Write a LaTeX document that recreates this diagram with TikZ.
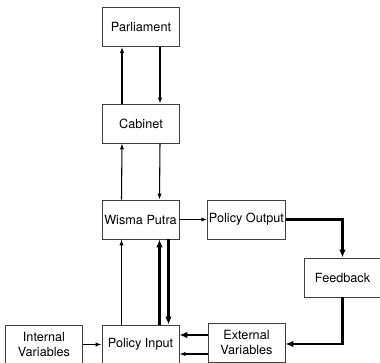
\documentclass[tikz,border=0pt]{standalone}
\usepackage{fontspec}
\setmainfont{TeX Gyre Heros}
\usetikzlibrary{positioning,arrows.meta,calc}

\begin{document}
\begin{tikzpicture}[
    x=0.75pt, y=-0.75pt,
    policy_box/.style={
      rectangle, draw=black!75, line width=0.6pt,
      minimum width=77*0.75pt, minimum height=39*0.75pt,
      inner sep=1pt, align=center,
      font=\fontsize{9.5}{11.2}\selectfont
    },
    link/.style={draw, line width=0.8pt, -{Latex[length=4.5pt,width=3.2pt]}},
    thick_link/.style={draw, line width=1.9pt, -{Latex[length=6pt,width=5pt]}}
  ]
  \useasboundingbox (0,0) rectangle (380,363);
  \clip (0,0) rectangle (380,363);
  \node[policy_box] (parliament) at (141,27) {Parliament};
  \node[policy_box] (cabinet) at (141,123.5) {Cabinet};
  \node[policy_box] (wisma) at (140.5,219.5) {Wisma Putra};
  \node[policy_box] (output) at (246.5,219.5) {Policy Output};
  \node[policy_box] (feedback) at (342.5,277.5) {Feedback};
  \node[policy_box] (input) at (140.5,344.5) {Policy Input};
  \node[policy_box] (internal) at (44,344.5) {Internal\\Variables};
  \node[policy_box] (external) at (246.5,342.5) {External\\Variables};
  \draw[link] ($(cabinet.north)+(-19,0)$) -- ($(parliament.south)+(-19,0)$);
  \draw[link] ($(parliament.south)+(19,0)$) -- ($(cabinet.north)+(19,0)$);
  \draw[link] ($(wisma.north)+(-19,0)$) -- ($(cabinet.south)+(-19,0)$);
  \draw[link] ($(cabinet.south)+(19,0)$) -- ($(wisma.north)+(19,0)$);
  \draw[link] ($(input.north)+(-19,0)$) -- ($(wisma.south)+(-19,0)$);
  \draw[thick_link] ($(input.north)+(19,0)$) -- ($(wisma.south)+(19,0)$);
  \draw[thick_link] ($(wisma.south)+(28,0)$) -- ($(input.north)+(28,0)$);
  \draw[link] (wisma.east) -- (output.west);
  \draw[thick_link] (output.east) -| (feedback.north);
  \draw[thick_link] (feedback.south) |- ($(external.east)+(0,1.5)$);
  \draw[thick_link] ($(external.west)+(0,-7.5)$) -- ($(input.east)+(0,-9.5)$);
  \draw[link] ($(external.west)+(0,11.5)$) -- ($(input.east)+(0,9.5)$);
  \draw[link] (internal.east) -- (input.west);
\end{tikzpicture}
\end{document}
